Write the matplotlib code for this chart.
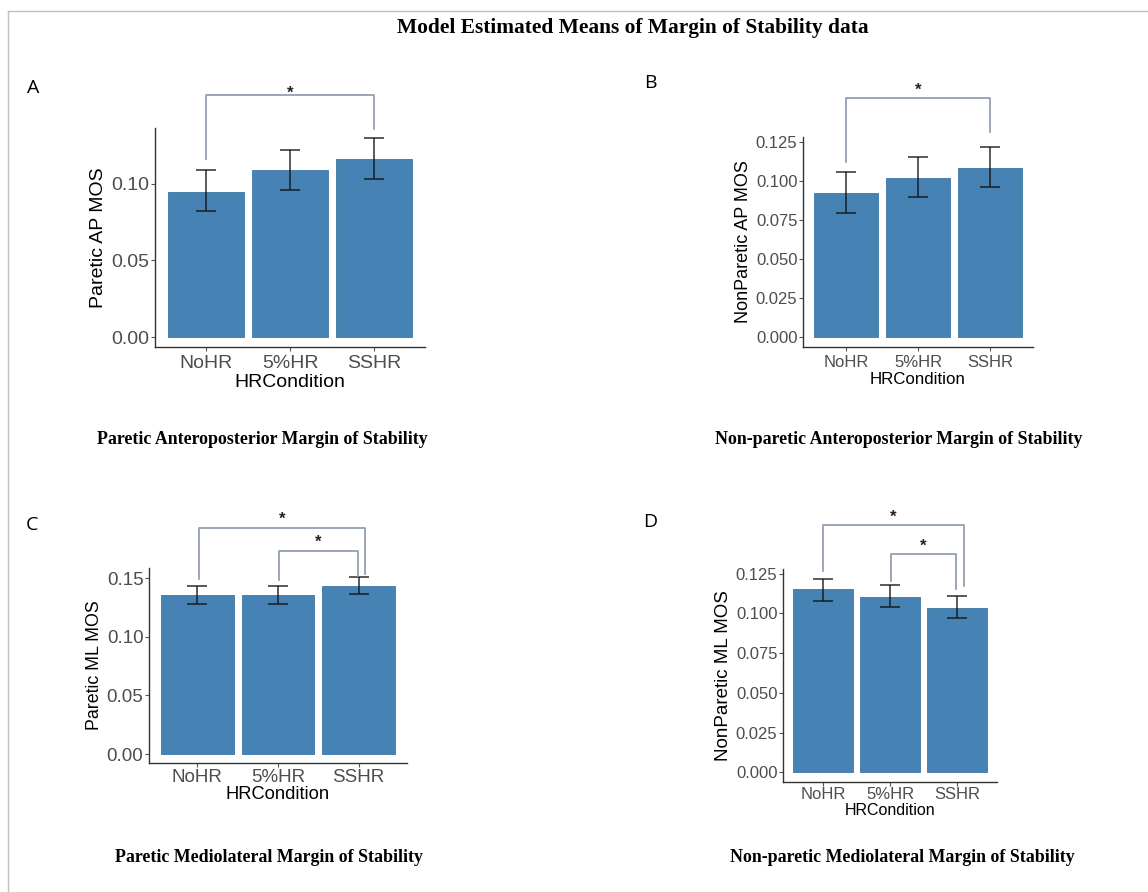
import matplotlib
matplotlib.use("Agg")
import matplotlib.pyplot as plt
import numpy as np
from matplotlib.lines import Line2D
from matplotlib.ticker import FormatStrFormatter

W, H = 1148, 892

conditions = ["NoHR", "5%HR", "SSHR"]

# model estimated means with lower / upper CI
ap_paretic = [0.095, 0.109, 0.116]
ap_paretic_lo = [0.082, 0.096, 0.103]
ap_paretic_hi = [0.109, 0.122, 0.130]

ap_nonparetic = [0.0926, 0.102, 0.1086]
ap_nonparetic_lo = [0.0796, 0.0898, 0.0962]
ap_nonparetic_hi = [0.106, 0.1154, 0.1223]

ml_paretic = [0.1353, 0.1353, 0.1433]
ml_paretic_lo = [0.128, 0.128, 0.136]
ml_paretic_hi = [0.1433, 0.1433, 0.151]

ml_nonparetic = [0.115, 0.1105, 0.1035]
ml_nonparetic_lo = [0.108, 0.104, 0.0968]
ml_nonparetic_hi = [0.1218, 0.1176, 0.111]

# significance brackets: (x1, x2, top, left end, right end)
sig_a = [(1, 3, 0.158, 0.116, 0.136)]
sig_b = [(1, 3, 0.1532, 0.1122, 0.1319)]
sig_c = [(1.02, 3.08, 0.1929, 0.1489, 0.1532), (2.01, 2.99, 0.1730, 0.148, 0.1515)]
sig_d = [(1, 3.1, 0.1555, 0.1266, 0.1169), (2.02, 2.98, 0.1371, 0.1203, 0.1150)]

BAR = "#4682B4"
TICK_COL = "#4D4D4D"
SIG_COL = "#8a97aa"

plt.rcParams["font.family"] = ["Liberation Sans", "DejaVu Sans"]

fig = plt.figure(figsize=(W / 100, H / 100), dpi=100)


def px_axes(l, t, r, b):
    return fig.add_axes([l / W, 1 - b / H, (r - l) / W, (b - t) / H])


def draw_panel(rect, means, lo, hi, ylabel, yticks, fmt, brackets,
               tick_fs, ylab_fs, xlab_fs, xpad, xlabpad, star_off):
    ax = px_axes(*rect)
    x = np.arange(1, len(conditions) + 1)
    means = np.array(means)
    lo = np.array(lo)
    hi = np.array(hi)
    ax.bar(x, means, width=0.9, color=BAR, edgecolor="#3f76a3", linewidth=0.6)
    ax.errorbar(x, means, yerr=[means - lo, hi - means], fmt="none",
                ecolor="#111111", alpha=0.75, elinewidth=1.3, capsize=7,
                capthick=1.3)
    top = hi.max()
    ax.set_xlim(0.4, 3.6)
    ax.set_ylim(-0.05 * top, 1.05 * top)
    ax.set_xticks(x)
    ax.set_xticklabels(conditions)
    ax.set_yticks(yticks)
    ax.yaxis.set_major_formatter(FormatStrFormatter(fmt))
    for s in ["top", "right"]:
        ax.spines[s].set_visible(False)
    for s in ["left", "bottom"]:
        ax.spines[s].set_color("#333333")
        ax.spines[s].set_linewidth(1.0)
    ax.tick_params(axis="both", length=3, width=0.8, color="#555555",
                   labelcolor=TICK_COL, labelsize=tick_fs)
    ax.tick_params(axis="y", pad=1)
    ax.tick_params(axis="x", pad=xpad)
    ax.set_ylabel(ylabel, fontsize=ylab_fs, labelpad=3)
    ax.set_xlabel("HRCondition", fontsize=xlab_fs, labelpad=xlabpad)

    for x1, x2, yt, y1, y2 in brackets:
        ax.plot([x1, x1, x2, x2], [y1, yt, yt, y2], color=SIG_COL,
                linewidth=1.2, clip_on=False)
        ax.annotate("*", xy=((x1 + x2) / 2, yt), xytext=(0, star_off),
                    textcoords="offset points", ha="center", va="center",
                    fontsize=12, fontweight="bold", color="#222222",
                    annotation_clip=False)
    return ax


draw_panel((155, 128, 425, 347), ap_paretic, ap_paretic_lo, ap_paretic_hi,
           "Paretic AP MOS", [0, 0.05, 0.10], "%.2f", sig_a,
           14, 14, 14, 3, 1, 1.5)
draw_panel((803, 137, 1033, 347), ap_nonparetic, ap_nonparetic_lo, ap_nonparetic_hi,
           "NonParetic AP MOS", np.arange(0, 0.126, 0.025), "%.3f", sig_b,
           12, 13, 12.2, 3, 1, 6)
draw_panel((149, 568, 407, 763), ml_paretic, ml_paretic_lo, ml_paretic_hi,
           "Paretic ML MOS", [0, 0.05, 0.10, 0.15], "%.2f", sig_c,
           13.5, 12.8, 13.2, 1.5, 0, 6)
draw_panel((783, 569, 997, 782), ml_nonparetic, ml_nonparetic_lo, ml_nonparetic_hi,
           "NonParetic ML MOS", np.arange(0, 0.126, 0.025), "%.3f", sig_d,
           12, 13.5, 11.5, 0.5, 0.8, 6)


def ftext(xp, yp, s, **kw):
    fig.text(xp / W, 1 - yp / H, s, **kw)


serif = ["Liberation Serif", "DejaVu Serif"]
ftext(633, 28, "Model Estimated Means of Margin of Stability data", ha="center",
      va="center", family=serif, fontweight="bold", fontsize=15.4)

for xp, yp, s in [(262, 440, "Paretic Anteroposterior Margin of Stability"),
                  (899, 440, "Non-paretic Anteroposterior Margin of Stability"),
                  (269, 858, "Paretic Mediolateral Margin of Stability"),
                  (902, 858, "Non-paretic Mediolateral Margin of Stability")]:
    ftext(xp, yp, s, ha="center", va="center", family=serif,
          fontweight="bold", fontsize=12.9)

for xp, yp, s in [(33, 88, "A"), (650, 83, "B"), (32, 525, "C"), (650, 522, "D")]:
    ftext(xp, yp, s, ha="center", va="center", fontsize=14,
          family=["Open Sans", "DejaVu Sans"])

# thin frame lines at top and left
fig.add_artist(Line2D([8 / W, 8 / W], [0, 1 - 11 / H], color="#c0c0c0", linewidth=1))
fig.add_artist(Line2D([8 / W, 1], [1 - 11 / H, 1 - 11 / H], color="#c0c0c0", linewidth=1))

fig.savefig("out.png", dpi=100)
